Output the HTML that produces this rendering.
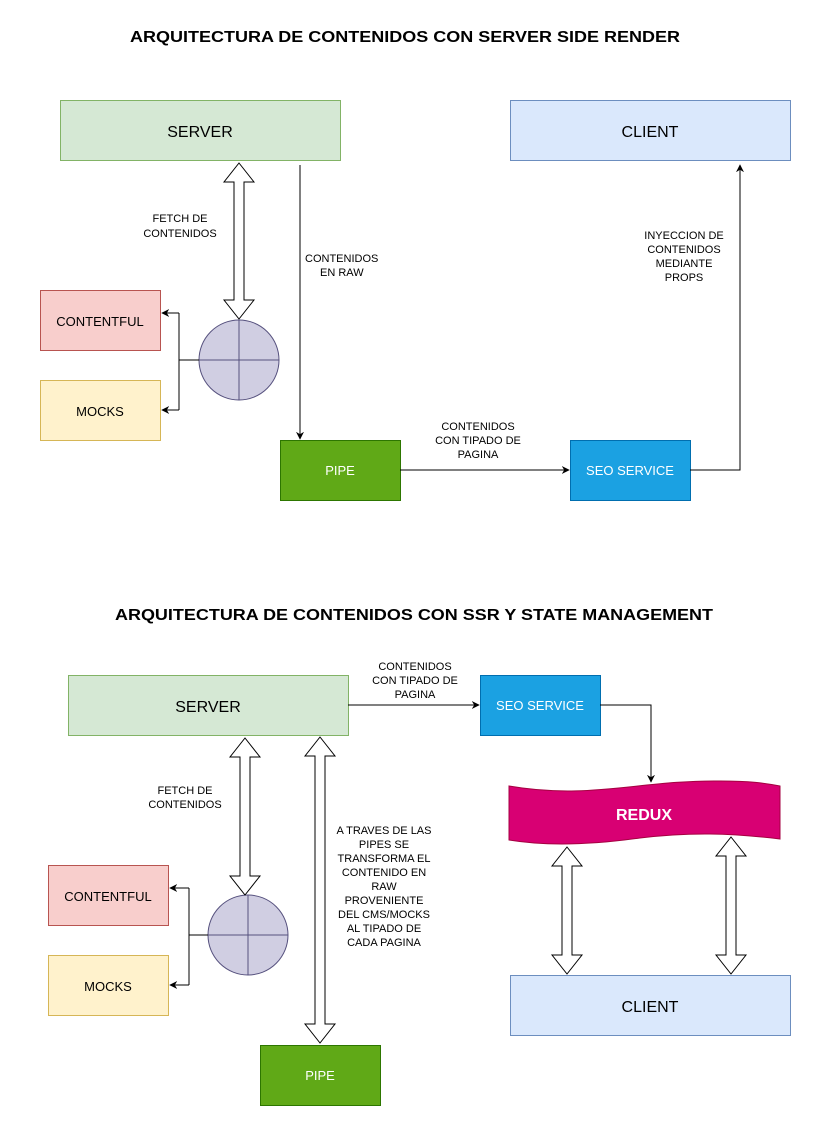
<!DOCTYPE html>
<html><head><meta charset="utf-8"><style>
html,body{margin:0;padding:0;background:#fff;}
svg{display:block;font-family:"Liberation Sans",Arial,sans-serif;}
</style></head><body>
<svg width="820" height="1126" viewBox="0 0 820 1126" xmlns="http://www.w3.org/2000/svg">
<defs>
<marker id="a" viewBox="0 0 10 10" refX="9" refY="5" markerWidth="8" markerHeight="8" orient="auto" markerUnits="userSpaceOnUse">
<path d="M0,0 L10,5 L0,10 L3,5 z" fill="#000"/></marker>
</defs>
<rect width="820" height="1126" fill="#fff"/>
<text x="405" y="42" text-anchor="middle" font-size="16" font-weight="bold" textLength="550" lengthAdjust="spacingAndGlyphs">ARQUITECTURA DE CONTENIDOS CON SERVER SIDE RENDER</text>

<rect x="60.5" y="100.5" width="280" height="60" fill="#d5e8d4" stroke="#82b366"/>
<text x="200" y="137" text-anchor="middle" font-size="16">SERVER</text>
<rect x="510.5" y="100.5" width="280" height="60" fill="#dae8fc" stroke="#6c8ebf"/>
<text x="650" y="137" text-anchor="middle" font-size="16">CLIENT</text>
<rect x="40.5" y="290.5" width="120" height="60" fill="#f8cecc" stroke="#b85450"/>
<text x="100" y="326" text-anchor="middle" font-size="13">CONTENTFUL</text>
<rect x="40.5" y="380.5" width="120" height="60" fill="#fff2cc" stroke="#d6b656"/>
<text x="100" y="416" text-anchor="middle" font-size="13">MOCKS</text>
<circle cx="239" cy="360" r="40" fill="#d0cee2" stroke="#56517e"/>
<line x1="239" y1="320" x2="239" y2="400" stroke="#56517e"/><line x1="199" y1="360" x2="279" y2="360" stroke="#56517e"/>
<polyline points="199,360 179,360" fill="none" stroke="#000"/>
<polyline points="179,313 179,410" fill="none" stroke="#000"/>
<line x1="179" y1="313" x2="162" y2="313" stroke="#000" marker-end="url(#a)"/>
<line x1="179" y1="410" x2="162" y2="410" stroke="#000" marker-end="url(#a)"/>
<polygon points="239,163 254,182 244,182 244,300 254,300 239,319 224,300 234,300 234,182 224,182" fill="#fff" stroke="#000"/>
<text x="180" y="222" text-anchor="middle" font-size="11">FETCH DE</text>
<text x="180" y="237" text-anchor="middle" font-size="11">CONTENIDOS</text>
<line x1="300" y1="165" x2="300" y2="439" stroke="#000" marker-end="url(#a)"/>
<text x="305" y="262" font-size="11">CONTENIDOS</text>
<text x="320" y="276" font-size="11">EN RAW</text>
<rect x="280.5" y="440.5" width="120" height="60" fill="#60a917" stroke="#2d7600"/>
<text x="340" y="475" text-anchor="middle" font-size="13" fill="#fff">PIPE</text>
<rect x="570.5" y="440.5" width="120" height="60" fill="#1ba1e2" stroke="#006eaf"/>
<text x="630" y="475" text-anchor="middle" font-size="13" fill="#fff">SEO SERVICE</text>
<line x1="400" y1="470" x2="569" y2="470" stroke="#000" marker-end="url(#a)"/>
<text x="478" y="430" text-anchor="middle" font-size="11">CONTENIDOS</text>
<text x="478" y="444" text-anchor="middle" font-size="11">CON TIPADO DE</text>
<text x="478" y="458" text-anchor="middle" font-size="11">PAGINA</text>
<polyline points="690,470 740,470 740,165" fill="none" stroke="#000" marker-end="url(#a)"/>
<text x="684" y="239" text-anchor="middle" font-size="11">INYECCION DE</text>
<text x="684" y="253" text-anchor="middle" font-size="11">CONTENIDOS</text>
<text x="684" y="267" text-anchor="middle" font-size="11">MEDIANTE</text>
<text x="684" y="281" text-anchor="middle" font-size="11">PROPS</text>

<text x="414" y="620" text-anchor="middle" font-size="16" font-weight="bold" textLength="598" lengthAdjust="spacingAndGlyphs">ARQUITECTURA DE CONTENIDOS CON SSR Y STATE MANAGEMENT</text>
<rect x="68.5" y="675.5" width="280" height="60" fill="#d5e8d4" stroke="#82b366"/>
<text x="208" y="712" text-anchor="middle" font-size="16">SERVER</text>
<rect x="480.5" y="675.5" width="120" height="60" fill="#1ba1e2" stroke="#006eaf"/>
<text x="540" y="710" text-anchor="middle" font-size="13" fill="#fff">SEO SERVICE</text>
<line x1="348" y1="705" x2="479" y2="705" stroke="#000" marker-end="url(#a)"/>
<text x="415" y="670" text-anchor="middle" font-size="11">CONTENIDOS</text>
<text x="415" y="684" text-anchor="middle" font-size="11">CON TIPADO DE</text>
<text x="415" y="698" text-anchor="middle" font-size="11">PAGINA</text>
<polyline points="600,705 651,705 651,782" fill="none" stroke="#000" marker-end="url(#a)"/>
<path d="M509,786 C590,800 640,780 720,781 C750,781 765,783 780,786 L780,839 C730,833 690,832 640,838 C590,845 545,846 509,840 Z" fill="#d80073" stroke="#a50040"/>
<text x="644" y="820" text-anchor="middle" font-size="16" font-weight="bold" fill="#fff">REDUX</text>
<rect x="510.5" y="975.5" width="280" height="60" fill="#dae8fc" stroke="#6c8ebf"/>
<text x="650" y="1012" text-anchor="middle" font-size="16">CLIENT</text>
<polygon points="567,847 582,866 572,866 572,955 582,955 567,974 552,955 562,955 562,866 552,866" fill="#fff" stroke="#000"/>
<polygon points="731,837 746,856 736,856 736,955 746,955 731,974 716,955 726,955 726,856 716,856" fill="#fff" stroke="#000"/>
<rect x="48.5" y="865.5" width="120" height="60" fill="#f8cecc" stroke="#b85450"/>
<text x="108" y="901" text-anchor="middle" font-size="13">CONTENTFUL</text>
<rect x="48.5" y="955.5" width="120" height="60" fill="#fff2cc" stroke="#d6b656"/>
<text x="108" y="991" text-anchor="middle" font-size="13">MOCKS</text>
<circle cx="248" cy="935" r="40" fill="#d0cee2" stroke="#56517e"/>
<line x1="248" y1="895" x2="248" y2="975" stroke="#56517e"/><line x1="208" y1="935" x2="288" y2="935" stroke="#56517e"/>
<line x1="208" y1="935" x2="189" y2="935" stroke="#000"/>
<line x1="189" y1="888" x2="189" y2="985" stroke="#000"/>
<line x1="189" y1="888" x2="170" y2="888" stroke="#000" marker-end="url(#a)"/>
<line x1="189" y1="985" x2="170" y2="985" stroke="#000" marker-end="url(#a)"/>
<polygon points="245,738 260,757 250,757 250,876 260,876 245,895 230,876 240,876 240,757 230,757" fill="#fff" stroke="#000"/>
<text x="185" y="794" text-anchor="middle" font-size="11">FETCH DE</text>
<text x="185" y="808" text-anchor="middle" font-size="11">CONTENIDOS</text>
<polygon points="320,737 335,756 325,756 325,1024 335,1024 320,1043 305,1024 315,1024 315,756 305,756" fill="#fff" stroke="#000"/>
<g font-size="11" text-anchor="middle">
<text x="384" y="834">A TRAVES DE LAS</text>
<text x="384" y="848">PIPES SE</text>
<text x="384" y="862">TRANSFORMA EL</text>
<text x="384" y="876">CONTENIDO EN</text>
<text x="384" y="890">RAW</text>
<text x="384" y="904">PROVENIENTE</text>
<text x="384" y="918">DEL CMS/MOCKS</text>
<text x="384" y="932">AL TIPADO DE</text>
<text x="384" y="946">CADA PAGINA</text>
</g>
<rect x="260.5" y="1045.5" width="120" height="60" fill="#60a917" stroke="#2d7600"/>
<text x="320" y="1080" text-anchor="middle" font-size="13" fill="#fff">PIPE</text>
</svg>
</body></html>
